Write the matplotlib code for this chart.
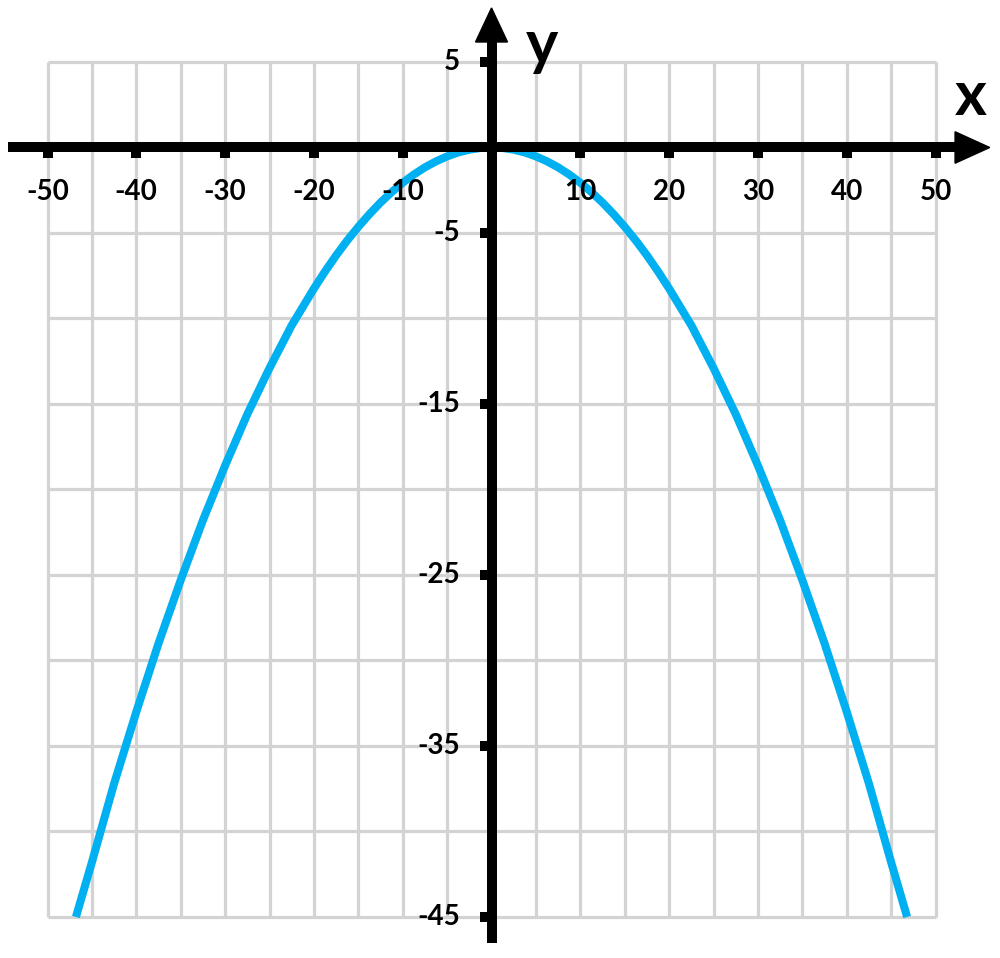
import numpy as np
import matplotlib.pyplot as plt
from matplotlib.patches import Polygon

# 曲线点 (x, y)
x_vals = [-46.8, -45, -42.5, -40, -37.5, -35, -32.5, -30, -27.5, -25, -22.5, -20,
          -18.75, -17.5, -16.25, -15, -13.75, -12.5, -11.25, -10, -8.75, -7.5, -6.25,
          -5, -3.75, -2.5, -1.25, 0,
          1.25, 2.5, 3.75, 5, 6.25, 7.5, 8.75, 10, 11.25, 12.5, 13.75, 15, 16.25,
          17.5, 18.75, 20,
          22.5, 25, 27.5, 30, 32.5, 35, 37.5, 40, 42.5, 45, 46.8]
y_vals = [-45.0, -41.8, -37.2, -33.0, -29.0, -25.3, -21.8, -18.6, -15.6, -12.9, -10.4, -8.25,
          -7.25, -6.31, -5.44, -4.64, -3.90, -3.22, -2.61, -2.06, -1.58, -1.16, -0.81,
          -0.52, -0.29, -0.13, -0.03, 0.0,
          -0.03, -0.13, -0.29, -0.52, -0.81, -1.16, -1.58, -2.06, -2.61, -3.22, -3.90, -4.64, -5.44,
          -6.31, -7.25, -8.25,
          -10.4, -12.9, -15.6, -18.6, -21.8, -25.3, -29.0, -33.0, -37.2, -41.8, -45.0]

x_ticks = [-50, -40, -30, -20, -10, 10, 20, 30, 40, 50]
y_ticks = [5, -5, -15, -25, -35, -45]

plt.rcParams['font.family'] = ['Lato', 'DejaVu Sans']

fig = plt.figure(figsize=(10, 9.58), dpi=100)
ax = fig.add_axes([0, 0, 1, 1])
ax.set_xlim(-55.35, 57.26)
ax.set_ylim(-47.40, 8.626)
ax.axis('off')

# 网格
grid_c = '#d3d3d3'
ax.vlines(np.arange(-50, 51, 5), -45, 5, colors=grid_c, lw=2.3, zorder=1)
ax.hlines(np.arange(-45, 6, 5), -50, 50, colors=grid_c, lw=2.3, zorder=1)

# 曲线
ax.plot(x_vals, y_vals, color='#00B0F0', lw=5.8, solid_capstyle='butt',
        solid_joinstyle='round', zorder=3)

# 坐标轴
ax.plot([-54.45, 52.3], [0, 0], color='black', lw=7.2, solid_capstyle='butt', zorder=4)
ax.add_patch(Polygon([[52.2, 0.92], [56.1, 0], [52.2, -0.92]], closed=True,
                     color='black', zorder=4))
ax.plot([0, 0], [-46.5, 6.3], color='black', lw=7.2, solid_capstyle='butt', zorder=4)
ax.add_patch(Polygon([[-1.8, 6.17], [0, 8.16], [1.8, 6.17]], closed=True,
                     color='black', zorder=4))

# 刻度
ax.vlines(x_ticks, -0.62, 0, colors='black', lw=7.2, capstyle='butt', zorder=4)
ax.hlines(y_ticks, -1.35, 0, colors='black', lw=7.2, capstyle='butt', zorder=4)

for v in x_ticks:
    ax.text(v, -2.6, str(v), ha='center', va='center', fontsize=20,
            fontweight='bold', zorder=5)
for v in y_ticks:
    ax.text(-3.55, v, str(v), ha='right', va='center', fontsize=20,
            fontweight='bold', zorder=5)

ax.text(5.7, 4.88, 'y', ha='center', va='baseline', fontsize=44, fontweight='bold')
ax.text(54.0, 1.9, 'x', ha='center', va='baseline', fontsize=44, fontweight='bold')

plt.savefig('out.png', dpi=100)
